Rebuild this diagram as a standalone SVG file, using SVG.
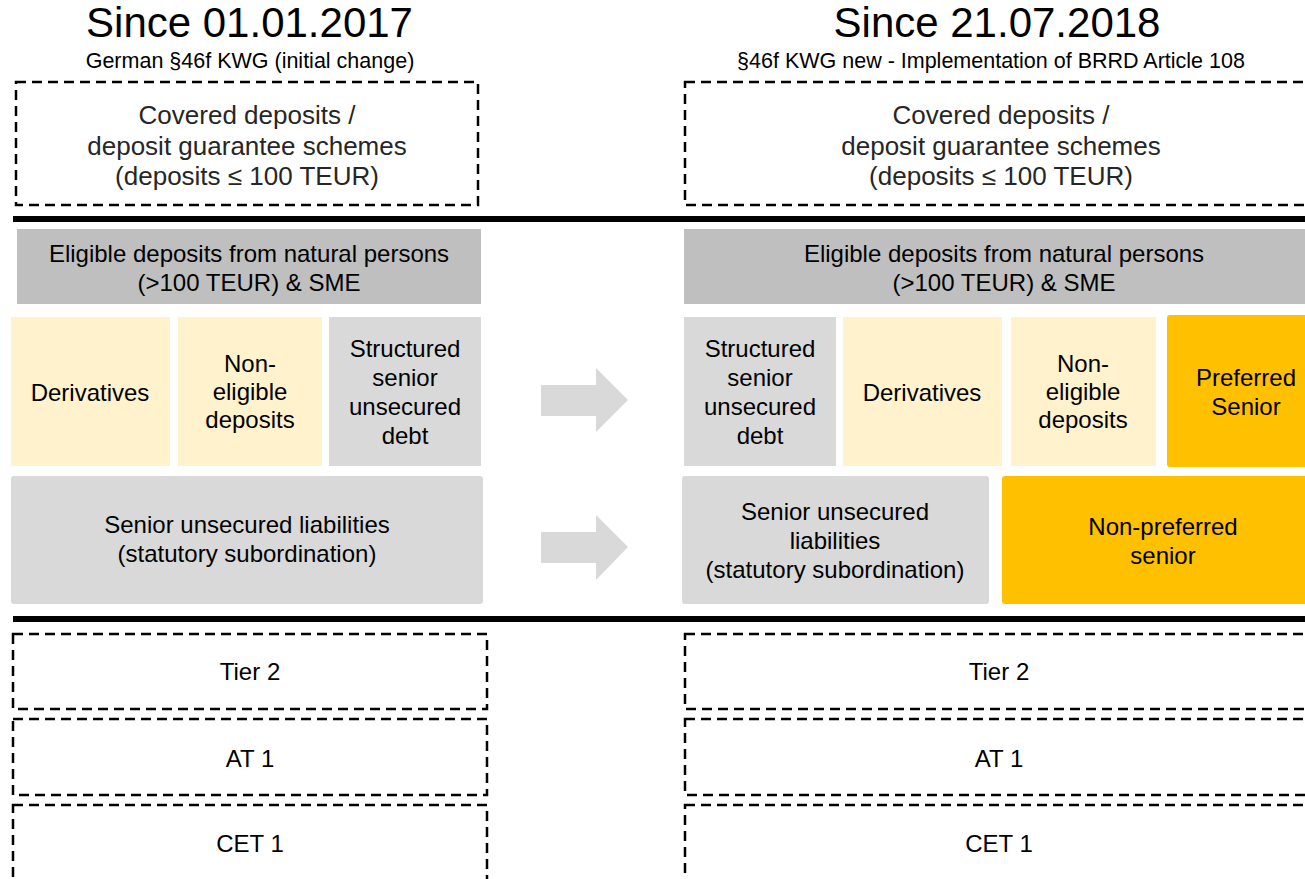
<svg xmlns="http://www.w3.org/2000/svg" width="1305" height="879" viewBox="0 0 1305 879">
<style>
text{font-family:"Liberation Sans",Arial,sans-serif;text-anchor:middle;fill:#000}
.title{font-size:42px}
.sub{font-size:21.5px}
.body{font-size:24px}
.cov{font-size:26px;fill:#262626}
.dash{fill:none;stroke:#000;stroke-width:2.5;stroke-dasharray:10 6}
.elig{fill:#bfbfbf}
.gray{fill:#d9d9d9}
.cream{fill:#fff2cc}
.gold{fill:#ffc000}
.sep{fill:#000}
.arrow{fill:#d9d9d9}
</style>
<rect width="1305" height="879" fill="#fff"/>

<g id="headers">
<text class="title" x="249.5" y="37">Since 01.01.2017</text>
<text class="sub" x="250" y="68">German §46f KWG (initial change)</text>
<text class="title" x="997" y="37">Since 21.07.2018</text>
<text class="sub" x="991" y="68">§46f KWG new - Implementation of BRRD Article 108</text>
</g>

<g id="separators">
<rect class="sep" x="13" y="216" width="1292" height="6"/>
<rect class="sep" x="13" y="616" width="1292" height="6"/>
</g>

<g id="left-covered">
<rect class="dash" x="16" y="82" width="462" height="123"/>
<text class="cov" x="247" y="124">Covered deposits /</text>
<text class="cov" x="247" y="155">deposit guarantee schemes</text>
<text class="cov" x="247" y="185">(deposits ≤ 100 TEUR)</text>
</g>
<g id="right-covered">
<rect class="dash" x="685" y="82" width="640" height="123"/>
<text class="cov" x="1001" y="124">Covered deposits /</text>
<text class="cov" x="1001" y="155">deposit guarantee schemes</text>
<text class="cov" x="1001" y="185">(deposits ≤ 100 TEUR)</text>
</g>

<g id="left-eligible">
<rect class="elig" x="17" y="229" width="464" height="75"/>
<text class="body" x="249" y="262">Eligible deposits from natural persons</text>
<text class="body" x="249" y="291">(&gt;100 TEUR) &amp; SME</text>
</g>
<g id="right-eligible">
<rect class="elig" x="684" y="229" width="641" height="75"/>
<text class="body" x="1004" y="262">Eligible deposits from natural persons</text>
<text class="body" x="1004" y="291">(&gt;100 TEUR) &amp; SME</text>
</g>

<g id="left-derivatives">
<rect class="cream" x="11" y="317" width="159" height="149"/>
<text class="body" x="90" y="401">Derivatives</text>
</g>
<g id="left-noneligible">
<rect class="cream" x="178" y="317" width="144" height="149"/>
<text class="body" x="250" y="372">Non-</text>
<text class="body" x="250" y="400">eligible</text>
<text class="body" x="250" y="428">deposits</text>
</g>
<g id="left-structured">
<rect class="gray" x="329" y="317" width="152" height="149"/>
<text class="body" x="405" y="357">Structured</text>
<text class="body" x="405" y="386">senior</text>
<text class="body" x="405" y="415">unsecured</text>
<text class="body" x="405" y="444">debt</text>
</g>
<g id="left-senior">
<rect class="gray" x="11" y="476" width="472" height="128" rx="3"/>
<text class="body" x="247" y="533">Senior unsecured liabilities</text>
<text class="body" x="247" y="562">(statutory subordination)</text>
</g>

<g id="right-structured">
<rect class="gray" x="684" y="317" width="152" height="149"/>
<text class="body" x="760" y="357">Structured</text>
<text class="body" x="760" y="386">senior</text>
<text class="body" x="760" y="415">unsecured</text>
<text class="body" x="760" y="444">debt</text>
</g>
<g id="right-derivatives">
<rect class="cream" x="843" y="317" width="159" height="149"/>
<text class="body" x="922" y="401">Derivatives</text>
</g>
<g id="right-noneligible">
<rect class="cream" x="1011" y="317" width="145" height="149"/>
<text class="body" x="1083" y="372">Non-</text>
<text class="body" x="1083" y="400">eligible</text>
<text class="body" x="1083" y="428">deposits</text>
</g>
<g id="right-preferred">
<rect class="gold" x="1167" y="315" width="158" height="152" rx="3"/>
<text class="body" x="1246" y="386">Preferred</text>
<text class="body" x="1246" y="415">Senior</text>
</g>
<g id="right-senior">
<rect class="gray" x="682" y="476" width="307" height="128" rx="3"/>
<text class="body" x="835" y="520">Senior unsecured</text>
<text class="body" x="835" y="549">liabilities</text>
<text class="body" x="835" y="578">(statutory subordination)</text>
</g>
<g id="right-nonpreferred">
<rect class="gold" x="1002" y="476" width="323" height="128" rx="3"/>
<text class="body" x="1163" y="535">Non-preferred</text>
<text class="body" x="1163" y="564">senior</text>
</g>

<g id="left-tier2">
<rect class="dash" x="13" y="634" width="474" height="75"/>
<text class="body" x="250" y="680">Tier 2</text>
</g>
<g id="left-at1">
<rect class="dash" x="13" y="719" width="474" height="76"/>
<text class="body" x="250" y="767">AT 1</text>
</g>
<g id="left-cet1">
<rect class="dash" x="13" y="805" width="474" height="90"/>
<text class="body" x="250" y="852">CET 1</text>
</g>
<g id="right-tier2">
<rect class="dash" x="685" y="634" width="640" height="75"/>
<text class="body" x="999" y="680">Tier 2</text>
</g>
<g id="right-at1">
<rect class="dash" x="685" y="719" width="640" height="76"/>
<text class="body" x="999" y="767">AT 1</text>
</g>
<g id="right-cet1">
<rect class="dash" x="685" y="805" width="640" height="90"/>
<text class="body" x="999" y="852">CET 1</text>
</g>

<g id="connectors">
<polygon class="arrow" points="541,385 596,385 596,368 628,400 596,432 596,416 541,416"/>
<polygon class="arrow" points="541,532 596,532 596,515 628,547 596,580 596,563 541,563"/>
</g>
</svg>
